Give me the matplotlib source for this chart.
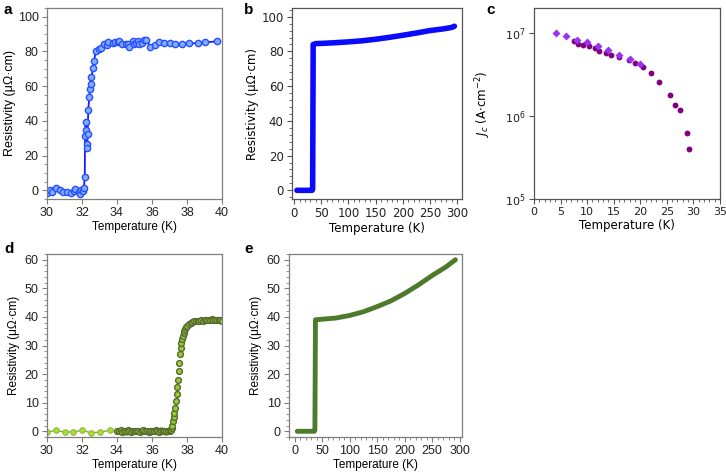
import matplotlib
matplotlib.use("Agg")
import matplotlib.pyplot as plt
from matplotlib.ticker import MultipleLocator

# ---- panel a : resistivity near Tc (sample 1) ----
temp_a = [30.02, 30.15, 30.30, 30.53, 30.74, 30.93, 31.16, 31.36, 31.55, 31.62,
          31.82, 31.90, 31.97, 32.05, 32.10, 32.16, 32.17, 32.20, 32.25, 32.28,
          32.30, 32.32, 32.36, 32.42, 32.46, 32.50, 32.52, 32.61, 32.69, 32.79,
          32.96, 33.08, 33.23, 33.42, 33.51, 33.76, 33.90, 34.05, 34.14, 34.28,
          34.50, 34.60, 34.70, 34.90, 34.98, 35.10, 35.20, 35.28, 35.40, 35.55,
          35.68, 35.90, 36.15, 36.38, 36.67, 37.05, 37.30, 37.70, 38.12, 38.60,
          39.05, 39.72]
res_a = [-1.7, 0.3, -0.8, 1.1, 0.2, -0.8, -0.8, -1.7, -0.5, 1.0,
         -0.8, -2.3, 0.2, -0.5, 1.2, 7.5, 31.5, 39.5, 34.5, 26.5,
         24.5, 32.5, 46.5, 54.0, 58.5, 65.5, 61.5, 70.5, 74.5, 80.5,
         81.5, 82.2, 84.1, 83.7, 85.4, 84.9, 85.6, 85.4, 85.8, 84.3,
         84.3, 84.5, 82.8, 85.8, 84.0, 85.0, 85.8, 84.5, 85.0, 86.6,
         86.6, 82.8, 83.9, 85.2, 84.7, 84.9, 84.3, 84.5, 84.7, 84.7,
         85.2, 85.8]

# ---- panel b : full range (sample 1) ----
temp_b = [5, 15, 25, 33, 34, 35, 40, 50, 75, 100, 125, 150, 175, 200, 225, 250, 275, 290, 295]
res_b = [0, 0, 0, 0, 0.5, 84.0, 84.5, 84.6, 85.0, 85.5, 86.1, 87.0, 88.1, 89.3, 90.6, 92.0, 93.0, 93.8, 94.5]

# ---- panel c : critical current density ----
temp_c1 = [4.2, 6.0, 8.0, 10.0, 12.0, 14.0, 16.0, 18.0, 20.0]
jc_c1 = [1.0e7, 9.1e6, 8.3e6, 7.7e6, 6.9e6, 6.2e6, 5.5e6, 4.9e6, 4.2e6]
temp_c2 = [7.5, 8.3, 9.3, 10.4, 11.4, 12.2, 13.5, 14.4, 16.0, 17.8, 19.0, 20.5,
           22.0, 23.5, 25.5, 26.5, 27.5, 28.7, 29.2]
jc_c2 = [7.9e6, 7.4e6, 7.1e6, 6.9e6, 6.6e6, 6.1e6, 5.8e6, 5.5e6, 5.2e6, 4.7e6, 4.4e6, 3.9e6,
         3.3e6, 2.6e6, 1.8e6, 1.37e6, 1.17e6, 6.2e5, 4.0e5]

# ---- panel d : resistivity near Tc (sample 2) ----
temp_d_sparse = [30.0, 30.5, 31.0, 31.5, 32.0, 32.5, 33.0, 33.6, 34.1, 34.5,
                 34.9, 35.2, 35.6, 35.9, 36.2, 36.5, 36.8]
res_d_sparse = [-0.3, 0.3, -0.3, -0.2, 0.3, -0.5, -0.3, 0.3, 0.2, -0.1,
                0.0, 0.1, 0.2, -0.2, 0.0, 0.4, -0.1]
temp_d = [34.0, 34.1, 34.2, 34.3, 34.4, 34.5, 34.6, 34.7, 34.8, 34.9,
          35.0, 35.1, 35.2, 35.3, 35.4, 35.5, 35.6, 35.7, 35.8, 35.9,
          36.0, 36.1, 36.2, 36.3, 36.4, 36.5, 36.6, 36.7, 36.8, 36.9,
          37.0, 37.04, 37.08, 37.12, 37.16, 37.2, 37.24, 37.28, 37.32, 37.36,
          37.4, 37.44, 37.48, 37.52, 37.56, 37.6, 37.64, 37.68, 37.72, 37.76,
          37.8, 37.85, 37.9, 37.95, 38.0, 38.1, 38.2, 38.3, 38.4, 38.5,
          38.6, 38.7, 38.8, 38.9, 39.0, 39.1, 39.2, 39.3, 39.4, 39.5,
          39.6, 39.7, 39.8, 39.9, 40.0]
res_d = [0.2, 0.1, 0.3, -0.1, 0.2, 0.0, 0.3, 0.1, -0.2, 0.2,
         0.1, 0.0, 0.2, -0.1, 0.1, 0.3, 0.0, 0.1, -0.2, 0.2,
         0.1, 0.0, 0.3, 0.1, -0.1, 0.2, 0.0, 0.1, 0.2, 0.0,
         0.2, 0.3, 0.5, 1.0, 2.0, 3.5, 5.0, 6.5, 8.0, 10.5,
         13.0, 15.5, 18.0, 21.0, 24.0, 27.0, 29.0, 30.8, 32.2, 33.3,
         34.2, 35.0, 35.7, 36.3, 36.8, 37.4, 37.9, 38.2, 38.4, 38.6,
         38.7, 38.6, 38.8, 38.7, 38.9, 38.8, 39.0, 38.9, 39.1, 39.0,
         38.9, 39.0, 38.8, 38.9, 38.7]

# ---- panel e : full range (sample 2) ----
temp_e = [5, 15, 25, 36, 37, 38, 45, 50, 75, 100, 125, 150, 175, 200, 225, 250, 275, 292]
res_e = [0, 0, 0, 0, 0.3, 39.0, 39.1, 39.2, 39.6, 40.5, 41.8, 43.6, 45.6, 48.2, 51.2, 54.5, 57.5, 60.0]

W, H = 726, 472
fig = plt.figure(figsize=(W / 100, H / 100), dpi=100)


def box(l, r, t, b):
    return [l / W, 1 - b / H, (r - l) / W, (b - t) / H]


arial = "Liberation Sans"
dejavu = "DejaVu Sans"
gris = "#7f7f7f"


def style(ax, fam, col, size):
    for s in ax.spines.values():
        s.set_color(col)
        s.set_linewidth(0.9)
    ax.tick_params(which="both", colors=col, labelcolor="#222222", direction="out")
    ax.tick_params(which="major", length=3.5, pad=2.5, labelsize=size)
    ax.tick_params(which="minor", length=2)
    for lab in ax.get_xticklabels() + ax.get_yticklabels():
        lab.set_family(fam)


# a
ax = fig.add_axes(box(47, 222, 8, 199))
ax.plot(temp_a, res_a, "-o", color="#1a1aff", lw=1.3, ms=4.5,
        mfc="#7fb0ff", mec="#2a4dff", mew=1.0)
ax.set_xlim(30, 40)
ax.set_ylim(-5, 105)
ax.xaxis.set_major_locator(MultipleLocator(2))
ax.yaxis.set_major_locator(MultipleLocator(20))
ax.yaxis.set_minor_locator(MultipleLocator(5))
style(ax, arial, gris, 9)
ax.set_xlabel("Temperature (K)", family=arial, fontsize=8.5, labelpad=1.5)
ax.set_ylabel("Resistivity (μΩ·cm)", family=arial, fontsize=9, labelpad=1.5)

# b
ax = fig.add_axes(box(292, 462, 8, 199))
ax.plot(temp_b, res_b, "-", color="#0a0aff", lw=4, solid_capstyle="round")
ax.set_xlim(-4, 309)
ax.set_ylim(-5, 105)
ax.xaxis.set_major_locator(MultipleLocator(50))
ax.xaxis.set_minor_locator(MultipleLocator(10))
ax.yaxis.set_major_locator(MultipleLocator(20))
ax.yaxis.set_minor_locator(MultipleLocator(4))
style(ax, dejavu, "#555555", 8.5)
ax.set_xlabel("Temperature (K)", family=dejavu, fontsize=8.5, labelpad=1.5)
ax.set_ylabel("Resistivity (μΩ·cm)", family=dejavu, fontsize=8.5, labelpad=2)

# c
ax = fig.add_axes(box(534, 720, 8, 199))
ax.semilogy(temp_c2, jc_c2, "o", color="#800080", ms=4.2, mec="none")
ax.semilogy(temp_c1, jc_c1, "D", color="#9a32f0", ms=4.5, mec="none")
ax.set_xlim(0, 35)
ax.set_ylim(1e5, 2e7)
ax.xaxis.set_major_locator(MultipleLocator(5))
ax.xaxis.set_minor_locator(MultipleLocator(1))
ax.set_yticks([1e5, 1e6, 1e7])
style(ax, dejavu, "#555555", 8)
ax.tick_params(axis="y", which="minor", length=0)
ax.set_xlabel("Temperature (K)", family=dejavu, fontsize=8.5, labelpad=1.5)
ax.set_ylabel(r"$J_c$ (A$\cdot$cm$^{-2}$)", family=dejavu, fontsize=8.5, labelpad=9)

# d
ax = fig.add_axes(box(47, 222, 254, 437))
ax.plot(temp_d_sparse, res_d_sparse, "-o", color="#7a9a3a", lw=0.9, ms=4,
        mfc="#a9dc3c", mec="#8fc030", mew=0.8)
ax.plot(temp_d, res_d, "o", ms=4.2, mfc="#9acd32", mec="#556b2f", mew=1.0)
ax.set_xlim(30, 40)
ax.set_ylim(-2, 62)
ax.xaxis.set_major_locator(MultipleLocator(2))
ax.yaxis.set_major_locator(MultipleLocator(10))
ax.yaxis.set_minor_locator(MultipleLocator(2))
style(ax, arial, gris, 9)
ax.set_xlabel("Temperature (K)", family=arial, fontsize=8.5, labelpad=1)
ax.set_ylabel("Resistivity (μΩ·cm)", family=arial, fontsize=8.5, labelpad=3)

# e
ax = fig.add_axes(box(289, 462, 254, 437))
ax.plot(temp_e, res_e, "-", color="#4e7a2c", lw=3.5, solid_capstyle="round")
ax.set_xlim(-10, 304)
ax.set_ylim(-2, 62)
ax.xaxis.set_major_locator(MultipleLocator(50))
ax.xaxis.set_minor_locator(MultipleLocator(10))
ax.yaxis.set_major_locator(MultipleLocator(10))
ax.yaxis.set_minor_locator(MultipleLocator(2))
style(ax, arial, gris, 9)
ax.set_xlabel("Temperature (K)", family=arial, fontsize=8.5, labelpad=1)
ax.set_ylabel("Resistivity (μΩ·cm)", family=arial, fontsize=8.5, labelpad=3)

# panel letters
for lettre, x, y in [("a", 4, 14), ("b", 244, 14), ("c", 486, 14), ("d", 4, 253), ("e", 244, 253)]:
    fig.text(x / W, 1 - y / H, lettre, family=arial, fontsize=11, fontweight="bold")

fig.savefig("out.png", dpi=100)
